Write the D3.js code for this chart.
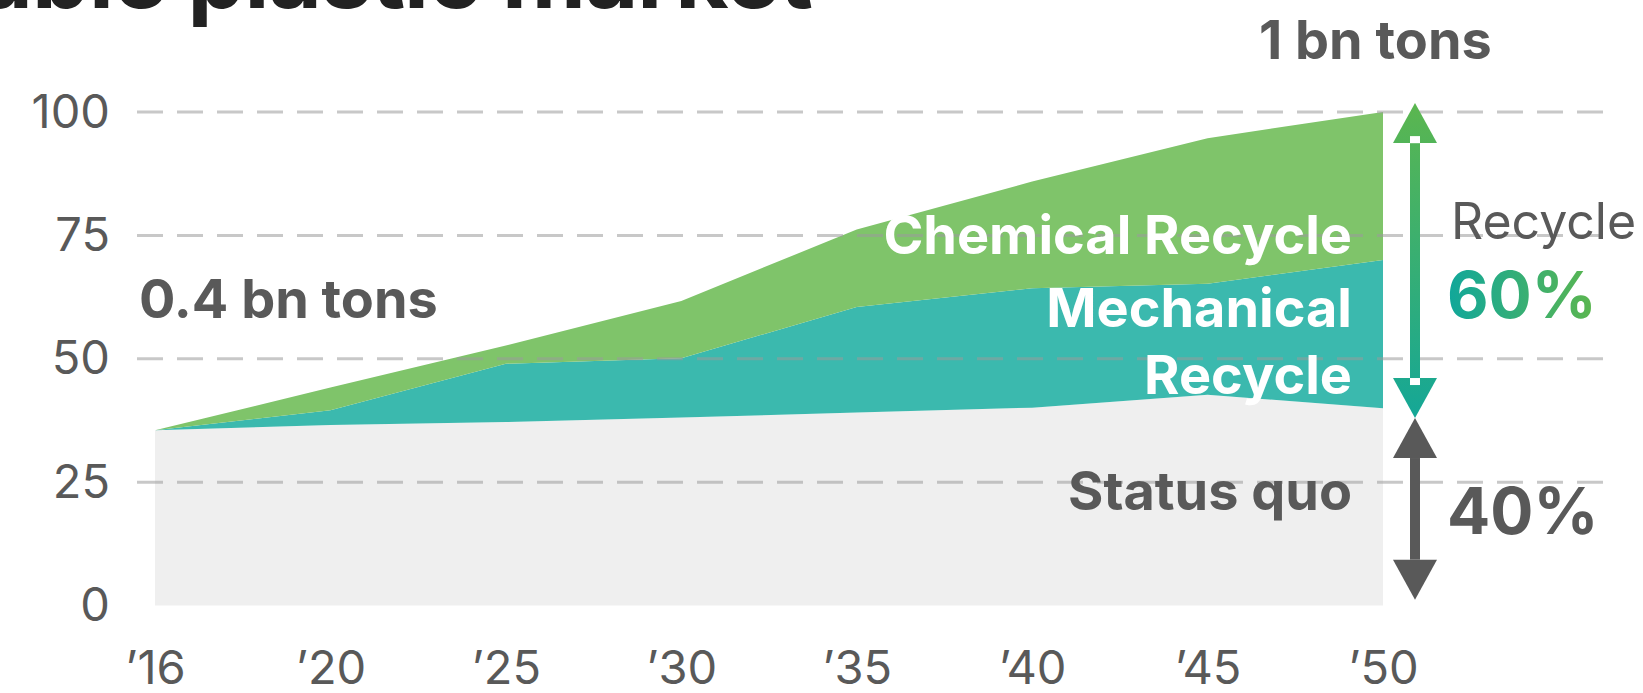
<!DOCTYPE html>
<html>
<head>
<meta charset="utf-8">
<script src="https://cdn.jsdelivr.net/npm/d3@7"></script>
<style>
  html, body { margin: 0; padding: 0; background: #fff; overflow: hidden; }
  svg { display: block; font-family: Inter, "Noto Sans", sans-serif; }
</style>
</head>
<body>
<div id="js-chart"></div>
<script>
// Data -------------------------------------
var years = ['16', '20', '25', '30', '35', '40', '45', '50'];
var statusQuo = [35.5, 36.6, 37.2, 38.1, 39.1, 40.1, 42.7, 40];
var mechanical = [0, 3.0, 11.8, 12.0, 21.4, 24.2, 22.5, 30];
var chemical = [0, 4.6, 3.7, 11.6, 15.7, 21.6, 29.5, 30];
var yTicks = [0, 25, 50, 75, 100];
var seriesKeys = ['statusQuo', 'mechanical', 'chemical'];

// Chart settings -------------------------------------
var width = 1643;
var height = 693;
var grey = '#595959';
var areaColor = {
  statusQuo: '#efefef',
  mechanical: '#3bb9ae',
  chemical: '#7fc46a'
};

var rows = years.map(function(d, i) {
  return {
    year: d,
    statusQuo: statusQuo[i],
    mechanical: mechanical[i],
    chemical: chemical[i]
  };
});

var svg = d3.select('#js-chart')
  .append('svg')
  .attr('width', width)
  .attr('height', height);

// Scales
var x = d3.scalePoint()
  .domain(years)
  .range([155, 1383]);

var y = d3.scaleLinear()
  .domain([0, 100])
  .range([605.6, 112]);

// Gradients -------------------------------------
var defs = svg.append('defs');

var arrowGrad = defs.append('linearGradient')
  .attr('id', 'arrow-grad')
  .attr('gradientUnits', 'userSpaceOnUse')
  .attr('x1', 0).attr('x2', 0)
  .attr('y1', 103).attr('y2', 419);
arrowGrad.append('stop').attr('offset', '0%').attr('stop-color', '#5bb64f');
arrowGrad.append('stop').attr('offset', '100%').attr('stop-color', '#14a797');

var textGrad = defs.append('linearGradient')
  .attr('id', 'text-grad')
  .attr('x1', '0%').attr('x2', '100%')
  .attr('y1', '0%').attr('y2', '0%');
textGrad.append('stop').attr('offset', '0%').attr('stop-color', '#10a79b');
textGrad.append('stop').attr('offset', '100%').attr('stop-color', '#5db64e');

// Title (cut off at the top) -------------------------------------
svg.append('text')
  .attr('x', 812)
  .attr('y', 8)
  .attr('text-anchor', 'end')
  .attr('fill', '#222')
  .style('font-size', '92px')
  .style('font-weight', 700)
  .style('letter-spacing', '-1px')
  .text('Sustainable plastic market');

// Stacked areas -------------------------------------
var stack = d3.stack().keys(seriesKeys);
var layers = stack(rows);

var area = d3.area()
  .x(function(d) { return x(d.data.year); })
  .y0(function(d) { return y(d[0]); })
  .y1(function(d) { return y(d[1]); });

svg.append('g')
  .selectAll('path')
  .data(layers)
  .enter()
  .append('path')
  .attr('d', area)
  .attr('fill', function(d) { return areaColor[d.key]; });

// Grid lines (drawn over the areas) -------------------------------------
svg.append('g')
  .selectAll('line')
  .data(yTicks.filter(function(d) { return d > 0; }))
  .enter()
  .append('line')
  .attr('x1', 137)
  .attr('x2', 1603)
  .attr('y1', function(d) { return y(d); })
  .attr('y2', function(d) { return y(d); })
  .attr('stroke', '#9a9a9a')
  .attr('stroke-opacity', 0.55)
  .attr('stroke-width', 3)
  .attr('stroke-dasharray', '26,14');

// Axes -------------------------------------
var yAxis = svg.append('g')
  .attr('transform', 'translate(137,0)')
  .call(d3.axisLeft(y).tickValues(yTicks).tickSize(0).tickPadding(27));

var xAxis = svg.append('g')
  .attr('transform', 'translate(0,' + y(0) + ')')
  .call(d3.axisBottom(x).tickSize(0).tickPadding(45)
    .tickFormat(function(d) { return '\u2019' + d; }));

[yAxis, xAxis].forEach(function(axis) {
  axis.select('.domain').remove();
  axis.selectAll('text')
    .attr('fill', grey)
    .style('font-family', 'Inter, "Noto Sans", sans-serif')
    .style('font-size', '47px');
});

// Labels in the areas -------------------------------------
var labelRight = 1352;
var areaLabels = [
  { text: 'Chemical Recycle', y: 254, fill: '#fff' },
  { text: 'Mechanical', y: 327, fill: '#fff' },
  { text: 'Recycle', y: 394, fill: '#fff' },
  { text: 'Status quo', y: 510, fill: grey }
];

svg.append('g')
  .selectAll('text')
  .data(areaLabels)
  .enter()
  .append('text')
  .attr('x', labelRight)
  .attr('y', function(d) { return d.y; })
  .attr('text-anchor', 'end')
  .attr('fill', function(d) { return d.fill; })
  .style('font-size', '54px')
  .style('font-weight', 700)
  .text(function(d) { return d.text; });

// Totals
svg.append('text')
  .attr('x', 139)
  .attr('y', 318)
  .attr('fill', grey)
  .style('font-size', '54px')
  .style('font-weight', 700)
  .text('0.4 bn tons');

svg.append('text')
  .attr('x', 1259)
  .attr('y', 59)
  .attr('fill', grey)
  .style('font-size', '54px')
  .style('font-weight', 700)
  .text('1 bn tons');

// Arrows -------------------------------------
var cx = 1415;
var headW = 22;
var headH = 40;
var shaftW = 10;

function drawArrow(g, top, bottom, fill, notch) {
  g.append('rect')
    .attr('x', cx - shaftW / 2)
    .attr('y', top + headH)
    .attr('width', shaftW)
    .attr('height', bottom - top - 2 * headH)
    .attr('fill', fill);
  g.append('path')
    .attr('d', 'M' + cx + ',' + top + 'L' + (cx + headW) + ',' + (top + headH) +
      'L' + (cx - headW) + ',' + (top + headH) + 'Z')
    .attr('fill', fill);
  g.append('path')
    .attr('d', 'M' + cx + ',' + bottom + 'L' + (cx + headW) + ',' + (bottom - headH) +
      'L' + (cx - headW) + ',' + (bottom - headH) + 'Z')
    .attr('fill', fill);
  if (notch) {
    g.append('rect')
      .attr('x', cx - shaftW / 2).attr('y', top + headH - 7)
      .attr('width', shaftW).attr('height', 7)
      .attr('fill', '#fff');
    g.append('rect')
      .attr('x', cx - shaftW / 2).attr('y', bottom - headH)
      .attr('width', shaftW).attr('height', 7)
      .attr('fill', '#fff');
  }
}

var arrows = svg.append('g');
drawArrow(arrows, y(101.8), y(38), 'url(#arrow-grad)', true);
drawArrow(arrows, y(38), y(1.2), grey, false);

// Share labels
svg.append('text')
  .attr('x', 1451)
  .attr('y', 239)
  .attr('fill', grey)
  .style('font-size', '50px')
  .text('Recycle');

svg.append('text')
  .attr('x', 1447)
  .attr('y', 318)
  .attr('fill', 'url(#text-grad)')
  .style('font-size', '64px')
  .style('font-weight', 700)
  .text('60%');

svg.append('text')
  .attr('x', 1447)
  .attr('y', 534)
  .attr('fill', grey)
  .style('font-size', '64px')
  .style('font-weight', 700)
  .text('40%');
</script>
</body>
</html>
